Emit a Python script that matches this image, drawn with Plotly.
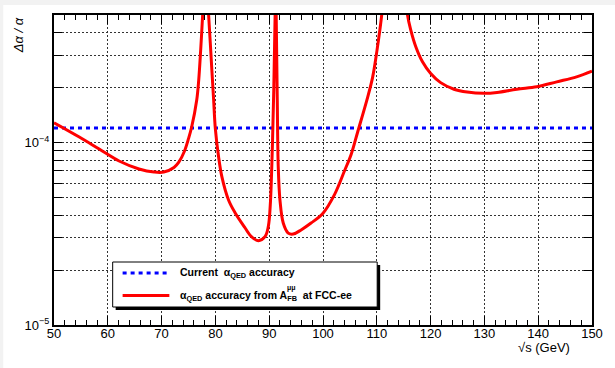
import plotly.graph_objects as go

# ---- data ----
sqrt_s = [50.0, 54.7, 58.4, 62.1, 65.8, 68.6, 70.4, 72.3, 73.2, 74.2, 75.0, 75.6, 76.53, 76.9, 77.26, 77.63,
          77.9, 78.25, 78.5, 78.74, 79.06, 79.35, 79.67, 79.98, 80.59, 81.2, 82.44, 83.68, 85.53,
          86.69, 87.99, 89.22, 89.83, 90.2, 90.57, 90.85, 91.1, 91.2, 91.3, 91.5, 91.68, 92.0, 92.61,
          93.53, 94.46, 95.93, 97.78, 100.0, 102.16, 104.0, 105.23, 106.47, 108.32, 109.24, 110.04,
          110.91, 111.5, 113.3, 115.1, 115.71, 116.32, 117.25, 118.49, 120.02, 121.87, 124.34, 126.8,
          129.89, 132.35, 136.04, 139.74, 143.44, 147.13, 150.0]
acc_fcc = [1.284e-4, 1.072e-4, 9.21e-5, 7.92e-5, 7.16e-5, 6.89e-5, 6.89e-5, 7.3e-5, 7.8e-5, 8.9e-5,
           1.05e-4, 1.22e-4, 1.71e-4, 2.2e-4, 3.2e-4, 5.0e-4,
           7e-4, 9e-4, 7e-4, 5.0e-4, 3.48e-4, 2.47e-4, 1.72e-4, 1.2e-4, 8.36e-5, 6.5e-5, 4.84e-5,
           4.11e-5, 3.4e-5, 3.05e-5, 2.9e-5, 3.05e-5, 3.46e-5, 4.55e-5, 9.1e-5, 1.94e-4, 5e-4, 2e-3,
           5e-4, 1.71e-4, 7.37e-5, 4.84e-5, 3.62e-5, 3.19e-5, 3.15e-5, 3.32e-5, 3.62e-5, 4.1e-5, 5.2e-5,
           7.0e-5, 8.6e-5, 1.15e-4, 1.78e-4, 2.29e-4, 3.21e-4, 5.0e-4, 8e-4, 1.2e-3, 8e-4, 5.0e-4,
           4.13e-4, 3.35e-4, 2.77e-4, 2.39e-4, 2.13e-4, 1.96e-4, 1.89e-4, 1.86e-4, 1.88e-4, 1.96e-4,
           2.02e-4, 2.15e-4, 2.29e-4, 2.46e-4]
sqrt_s_current = [50, 150]
acc_current = [1.2e-4, 1.2e-4]

x_tick_vals = [50, 60, 70, 80, 90, 100, 110, 120, 130, 140, 150]
y_tick_vals = [1e-5, 2e-5, 3e-5, 4e-5, 5e-5, 6e-5, 7e-5, 8e-5, 9e-5, 1e-4, 2e-4, 3e-4, 4e-4, 5e-4]
y_tick_text = ["10<sup>\u22125</sup>", "", "", "", "", "", "", "", "", "10<sup>\u22124</sup>", "", "", "", ""]

legend_labels = ["<b>Current  \u03b1<sub>QED</sub> accuracy</b>",
                 "<b>\u03b1<sub>QED</sub> accuracy from A<sub>FB</sub>  at FCC-ee</b>"]

W, H = 615, 368
L, R, T, B = 54, 20, 15, 43
PW, PH = W - L - R, H - T - B


def px(xp):
    return (xp - L) / PW


def py(yp):
    return (H - B - yp) / PH


FONT = "Liberation Sans, Arial, Helvetica, sans-serif"

fig = go.Figure()
fig.add_trace(go.Scatter(x=sqrt_s_current, y=acc_current, mode="lines",
                         line=dict(color="#0000ff", width=3, dash="4px,4px"), showlegend=False))
fig.add_trace(go.Scatter(x=sqrt_s, y=acc_fcc, mode="lines",
                         line=dict(color="#ff0000", width=3, shape="spline", smoothing=1.0),
                         showlegend=False))

shapes = [
    dict(type="rect", xref="paper", yref="paper", x0=px(3), x1=px(W + 5), y0=py(H + 5), y1=py(5),
         fillcolor="white", line=dict(width=0), layer="below"),
    dict(type="rect", xref="paper", yref="paper", x0=px(116), x1=px(382), y0=py(310), y1=py(265),
         fillcolor="black", line=dict(width=0)),
    dict(type="rect", xref="paper", yref="paper", x0=px(113), x1=px(379), y0=py(307), y1=py(262),
         fillcolor="white", line=dict(color="black", width=1)),
    dict(type="line", xref="paper", yref="paper", x0=px(123), x1=px(170), y0=py(273), y1=py(273),
         line=dict(color="#0000ff", width=3, dash="4px,4px")),
    dict(type="line", xref="paper", yref="paper", x0=px(123), x1=px(170), y0=py(295.5), y1=py(295.5),
         line=dict(color="#ff0000", width=3)),
]

annotations = [
    dict(text=legend_labels[0], xref="paper", yref="paper", x=px(179), y=py(273), xanchor="left",
         yanchor="middle", showarrow=False, font=dict(family=FONT, size=10.5, color="black")),
    dict(text=legend_labels[1], xref="paper", yref="paper", x=px(179), y=py(295.5), xanchor="left",
         yanchor="middle", showarrow=False, font=dict(family=FONT, size=10.5, color="black")),
    dict(text="<b>\u03bc\u03bc</b>", xref="paper", yref="paper", x=px(293), y=py(288), xanchor="center",
         yanchor="middle", showarrow=False, font=dict(family=FONT, size=7, color="black")),
    dict(text="<i>\u0394\u03b1 / \u03b1</i>", xref="paper", yref="paper", x=px(18), y=py(15), xanchor="center",
         yanchor="top", textangle=-90, showarrow=False, font=dict(family=FONT, size=13, color="black")),
    dict(text="\u221as (GeV)", xref="paper", yref="paper", x=px(547), y=py(347), xanchor="center",
         yanchor="middle", showarrow=False, font=dict(family=FONT, size=13, color="black")),
]

fig.update_layout(
    width=W, height=H, margin=dict(l=L, r=R, t=T, b=B, pad=0),
    paper_bgcolor="#f2f2f2", plot_bgcolor="white",
    shapes=shapes, annotations=annotations, showlegend=False,
    font=dict(family=FONT, size=13, color="black"),
)
fig.update_xaxes(
    range=[50, 150], tickvals=x_tick_vals, ticks="inside", ticklen=9, tickwidth=1, tickcolor="black",
    showline=True, linecolor="black", linewidth=2, mirror="ticks",
    showgrid=True, gridcolor="#333333", gridwidth=1, griddash="2px,2px",
    minor=dict(dtick=2, ticks="inside", ticklen=5, tickwidth=1, tickcolor="black", showgrid=False),
    tickfont=dict(family=FONT, size=13), zeroline=False, ticklabelstandoff=-5,
)
fig.update_yaxes(
    type="log", range=[-5, -3.30103], tickvals=y_tick_vals, ticktext=y_tick_text,
    ticks="inside", ticklen=8, tickwidth=1, tickcolor="black",
    showline=True, linecolor="black", linewidth=2, mirror="ticks",
    showgrid=True, gridcolor="#333333", gridwidth=1, griddash="2px,2px",
    tickfont=dict(family=FONT, size=13), zeroline=False,
)

fig.write_html("out.html")
